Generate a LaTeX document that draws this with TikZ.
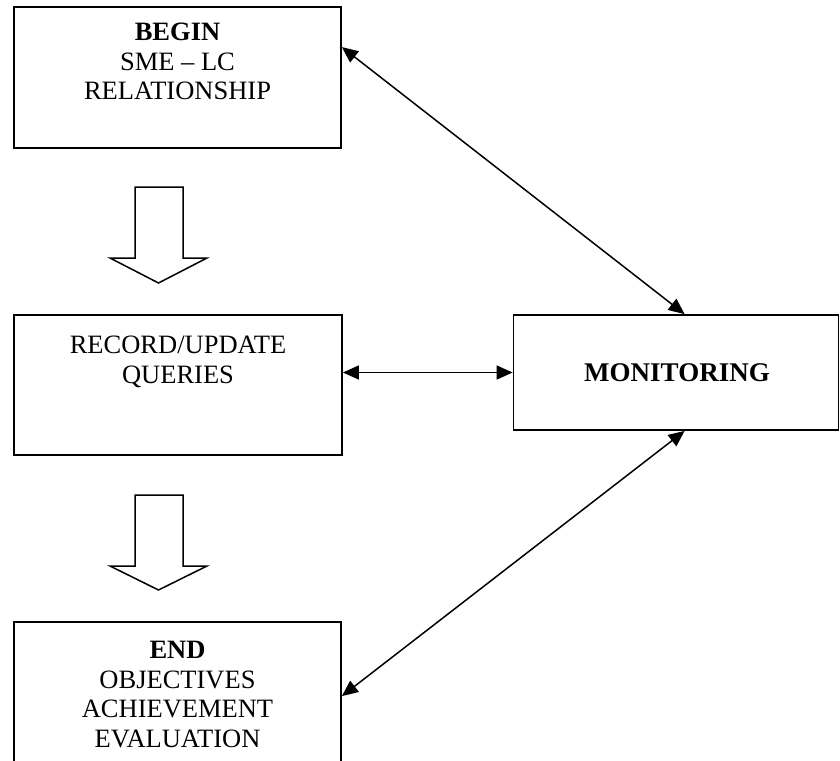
\documentclass[tikz,border=0pt]{standalone}
\usepackage{fontspec}
\setmainfont{Liberation Serif}
\usetikzlibrary{arrows.meta,calc}
\begin{document}
\begin{tikzpicture}[x=1pt,y=-1pt,
  box/.style={draw,line width=1.8pt,rectangle,inner sep=0pt},
  label/.style={align=center,anchor=north,inner sep=0pt,
    font=\fontsize{26.5}{29.5}\selectfont},
  link/.style={line width=1.5pt,{Triangle[length=16pt,width=14pt]}-{Triangle[length=16pt,width=14pt]}},
  blockarrow/.style={draw,line width=1.5pt,fill=white,line join=miter}]
\useasboundingbox (0,0) rectangle (840,760);
\clip (0,0) rectangle (840,760);

% process boxes
\node[box,minimum width=327pt,minimum height=141pt] (begin) at (177.5,77.5) {};
\node[box,minimum width=328pt,minimum height=140pt] (record) at (178,385) {};
\node[box,minimum width=325pt,minimum height=115pt] (monitor) at (676,372.5) {};
\node[box,minimum width=327pt,minimum height=160pt] (end) at (177.5,702) {};

% box texts
\node[label] (tbegin) at (177.5,23) {\textbf{BEGIN}\\SME – LC\\RELATIONSHIP};
\node[label] (trecord) at (178,336) {RECORD/UPDATE\\QUERIES};
\node[anchor=center,inner sep=0pt,font=\fontsize{27}{30}\selectfont\bfseries] (tmonitor) at (677,373) {MONITORING};
\node[label] (tend) at (177.5,641) {\textbf{END}\\OBJECTIVES\\ACHIEVEMENT\\EVALUATION};

% hollow block arrows between the steps
\draw[blockarrow] (135,187) -- (183,187) -- (183,258) -- (207,258) -- (158.5,283)
  -- (110,258) -- (135,258) -- cycle;
\draw[blockarrow] (135,495) -- (183,495) -- (183,566) -- (207,566) -- (158.5,590)
  -- (110,566) -- (135,566) -- cycle;

% two-way links with the monitoring step
\draw[link] ($(begin.north east)+(0,41)$) -- ($(monitor.north west)+(172,0)$);
\draw[link] (record.east |- monitor.west) -- (monitor.west);
\draw[link] ($(monitor.south west)+(172,0)$) -- ($(end.north east)+(0,75)$);
\end{tikzpicture}
\end{document}
